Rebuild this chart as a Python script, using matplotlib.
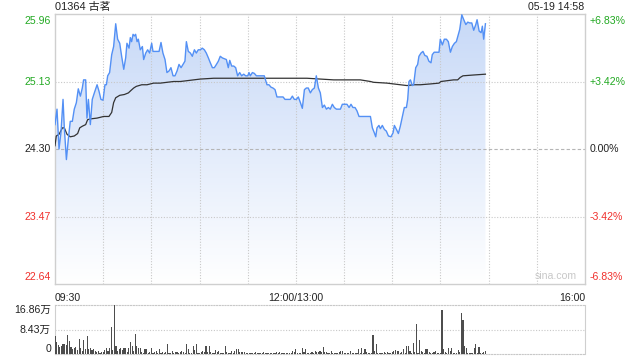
import numpy as np
import matplotlib
matplotlib.use("Agg")
import matplotlib.pyplot as plt
from matplotlib.patches import Polygon
from matplotlib.transforms import blended_transform_factory

plt.rcParams['font.family'] = ['Liberation Sans', 'Noto Sans CJK SC', 'DejaVu Sans']

# ---------------- data ----------------
title = "01364 古茗"
stamp = "05-19 14:58"
prev_close = 24.30
price_ticks = [25.96, 25.13, 24.30, 23.47, 22.64]
time_labels = ["09:30", "12:00/13:00", "16:00"]
time_label_pos = [0, 150, 330]          # trading minutes since 09:30
total_minutes = 330

# price line (trading minutes since 09:30, price)
price_t = [0, 1.25, 2.5, 3.7, 5.0, 5.8, 7.1, 8.3, 9.5, 10.8, 12.0, 13.3, 14.5, 15.8, 17.0, 17.8,
           19.1, 19.9, 20.8, 22.0, 23.2, 24.5, 26.2, 27.4, 28.6, 29.9, 31.1, 32.0, 32.8, 34.0,
           35.3, 36.5, 37.8, 39.0, 40.3, 41.5, 42.8, 44.0, 44.8, 46.1, 46.9, 47.7, 48.6, 49.4,
           50.2, 51.1, 51.9, 53.1, 54.4, 55.2, 56.5, 57.7, 58.9, 60.2, 61.0, 63.5, 64.8, 66.0,
           67.2, 68.5, 69.7, 71.0, 72.2, 73.5, 74.7, 76.0, 77.2, 78.5, 79.7, 80.9, 81.8, 83.0,
           84.3, 85.5, 86.8, 88.0, 89.2, 90.5, 91.7, 93.0, 94.2, 95.5, 96.7, 98.0, 99.2, 100.5,
           101.7, 102.9, 104.2, 105.4, 106.7, 107.9, 108.8, 110.0, 111.3, 112.5, 113.7, 115.0,
           116.2, 117.5, 118.7, 120.0, 120.8, 121.6, 122.9, 124.1, 125.4, 130.3, 132.0, 133.2,
           134.5, 135.7, 137.0, 138.2, 142.0, 143.2, 146.5, 147.8, 149.0, 150.3, 151.5, 152.8,
           154.0, 155.3, 156.5, 157.7, 159.0, 160.2, 161.5, 162.7, 164.0, 165.2, 166.5, 167.7,
           169.0, 170.2, 171.4, 172.7, 173.9, 175.2, 177.7, 178.9, 181.8, 183.1, 184.3, 185.5,
           186.8, 188.0, 189.3, 196.4, 197.6, 198.8, 199.7, 200.5, 201.7, 202.6, 203.8, 205.1,
           206.3, 207.6, 209.2, 210.5, 211.3, 212.6, 213.8, 215.0, 216.3, 217.5, 218.8, 219.6,
           220.4, 221.3, 222.5, 223.3, 224.6, 225.8, 226.6, 227.9, 229.1, 230.3, 231.6, 232.8,
           234.1, 234.9, 236.1, 239.1, 239.9, 241.2, 242.4, 243.7, 244.9, 246.2, 247.4, 248.7,
           249.9, 251.2, 252.0, 253.3, 254.5, 255.8, 257.0, 258.2, 259.5, 260.7, 262.0, 262.8,
           264.1, 265.3, 266.1, 266.9, 268.0]
price_v = [24.60, 24.79, 24.30, 24.50, 24.91, 24.56, 24.17, 24.42, 24.64, 24.64, 24.79, 24.87,
           25.04, 24.95, 25.05, 25.15, 25.15, 24.68, 24.91, 24.60, 24.91, 24.99, 25.09, 25.01,
           24.91, 24.90, 25.09, 25.09, 25.20, 25.24, 25.46, 25.56, 25.84, 25.65, 25.60, 25.44,
           25.28, 25.42, 25.60, 25.54, 25.67, 25.62, 25.71, 25.69, 25.71, 25.62, 25.65, 25.52,
           25.56, 25.40, 25.48, 25.52, 25.48, 25.60, 25.50, 25.50, 25.50, 25.61, 25.48, 25.40,
           25.24, 25.26, 25.30, 25.20, 25.20, 25.26, 25.34, 25.30, 25.34, 25.38, 25.62, 25.50,
           25.48, 25.44, 25.52, 25.48, 25.52, 25.52, 25.54, 25.52, 25.48, 25.42, 25.36, 25.30,
           25.30, 25.34, 25.38, 25.44, 25.42, 25.41, 25.40, 25.30, 25.39, 25.32, 25.32, 25.30,
           25.20, 25.24, 25.20, 25.22, 25.20, 25.20, 25.24, 25.20, 25.24, 25.23, 25.20, 25.20,
           25.09, 25.09, 25.06, 25.05, 25.03, 24.94, 24.94, 24.91, 24.91, 24.95, 24.91, 24.91,
           24.94, 24.87, 24.80, 25.03, 25.05, 25.05, 24.99, 25.03, 25.05, 25.20, 25.05, 24.99,
           24.81, 24.84, 24.79, 24.81, 24.79, 24.85, 24.81, 24.79, 24.79, 24.85, 24.85, 24.81,
           24.85, 24.81, 24.81, 24.77, 24.70, 24.70, 24.56, 24.50, 24.45, 24.56, 24.59, 24.55,
           24.59, 24.54, 24.52, 24.46, 24.45, 24.50, 24.59, 24.54, 24.49, 24.58, 24.70, 24.81,
           24.81, 24.91, 25.13, 25.15, 25.08, 25.09, 25.30, 25.34, 25.44, 25.48, 25.50, 25.45,
           25.44, 25.38, 25.36, 25.46, 25.49, 25.49, 25.65, 25.58, 25.65, 25.65, 25.62, 25.49,
           25.56, 25.60, 25.62, 25.71, 25.77, 25.95, 25.89, 25.83, 25.86, 25.85, 25.85, 25.76,
           25.83, 25.89, 25.75, 25.73, 25.81, 25.65, 25.84]

# average price line
avg_t = [0, 0.8, 2.5, 4.6, 5.8, 7.5, 9.5, 12.0, 14.1, 15.4, 17.0, 19.1, 20.3, 22.0, 26.2, 30.3,
         33.6, 35.3, 36.5, 37.8, 40.3, 43.2, 45.7, 47.3, 49.0, 50.6, 54.0, 57.3, 61.4, 65.6,
         69.7, 73.9, 78.0, 82.2, 86.3, 90.5, 98.8, 107.1, 115.4, 123.7, 132.0, 140.3, 148.6,
         156.9, 165.2, 173.5, 181.8, 190.1, 196.4, 198.4, 206.7, 215.0, 219.2, 223.3, 227.5,
         233.7, 239.1, 240.3, 248.2, 250.7, 252.3, 254.0, 260.7, 268.0]
avg_v = [24.34, 24.46, 24.48, 24.56, 24.56, 24.48, 24.45, 24.46, 24.49, 24.56, 24.58, 24.60,
         24.66, 24.67, 24.68, 24.70, 24.70, 24.75, 24.87, 24.93, 24.96, 24.97, 24.99, 25.02,
         25.05, 25.07, 25.09, 25.09, 25.11, 25.11, 25.12, 25.13, 25.13, 25.14, 25.15, 25.16,
         25.17, 25.17, 25.17, 25.17, 25.17, 25.17, 25.17, 25.17, 25.16, 25.15, 25.15, 25.15,
         25.13, 25.12, 25.11, 25.09, 25.08, 25.09, 25.09, 25.10, 25.11, 25.13, 25.15, 25.15,
         25.18, 25.20, 25.21, 25.22]

# per-minute volume, thousands of shares, minute 0 (09:30) .. 268 (14:58)
volume_k = [61, 40, 30, 24, 29, 33, 36, 30, 66, 44, 25, 18, 20, 24, 14, 52, 21, 12, 49, 16,
            63, 16, 19, 14, 16, 10, 7, 12, 5, 7, 7, 15, 20, 12, 20, 94, 15, 167, 27, 10,
            18, 20, 15, 20, 20, 8, 20, 43, 27, 12, 70, 27, 21, 21, 7, 5, 18, 16, 5, 8,
            21, 5, 7, 10, 5, 16, 5, 8, 4, 6, 36, 5, 3, 10, 5, 7, 7, 5, 7, 10,
            6, 4, 36, 18, 5, 5, 27, 15, 33, 5, 5, 7, 10, 7, 29, 7, 29, 7, 5, 5,
            13, 7, 10, 5, 5, 5, 29, 7, 5, 5, 10, 5, 10, 16, 16, 7, 7, 7, 7, 5,
            5, 5, 3, 5, 5, 7, 5, 5, 3, 5, 7, 5, 5, 3, 5, 5, 5, 5, 7, 5,
            7, 5, 5, 5, 5, 5, 5, 5, 10, 7, 16, 3, 5, 5, 21, 7, 16, 5, 5, 5,
            7, 5, 10, 7, 7, 10, 7, 25, 7, 7, 3, 3, 10, 5, 5, 3, 5, 7, 10, 10,
            5, 5, 3, 5, 10, 5, 3, 5, 5, 16, 5, 21, 5, 16, 7, 5, 5, 5, 66, 10,
            33, 5, 5, 5, 5, 7, 5, 7, 5, 5, 7, 10, 13, 10, 10, 5, 7, 16, 5, 29,
            29, 10, 5, 38, 7, 103, 5, 47, 10, 7, 5, 18, 16, 7, 5, 5, 7, 10, 5, 5,
            5, 153, 18, 7, 5, 21, 10, 21, 3, 5, 5, 13, 7, 142, 117, 29, 21, 5, 5, 3,
            5, 21, 36, 5, 25, 5, 5, 7, 10]
volume_max = 168600

# ---------------- style ----------------
GREEN = '#22a922'
RED = '#f0302c'
BLACK = '#222222'
GRID = '#c8c8c8'
SPINE = '#cfcfcf'
LINE = '#5390f5'
FS = 7.6

fig = plt.figure(figsize=(6.4, 3.6), dpi=100)
ax = fig.add_axes([55/640, 1-284/360, 530/640, 270/360])
axv = fig.add_axes([55/640, 1-354/360, 530/640, 49/360])

ymin, ymax = min(price_ticks), max(price_ticks)
ax.set_xlim(0, total_minutes)
ax.set_ylim(ymin, ymax)

pt = np.array(price_t)
pv = np.array(price_v)

# gradient fill under price line
grad = np.linspace(0, 1, 256).reshape(-1, 1)
top_c = np.array([0.78, 0.85, 0.97])
bot_c = np.array([1.0, 1.0, 1.0])
img = top_c[None, None, :] * (1 - grad[:, :, None]) + bot_c[None, None, :] * grad[:, :, None]
im = ax.imshow(img, extent=[0, total_minutes, ymin, ymax], origin='upper', aspect='auto',
               zorder=1, interpolation='bilinear')
verts = np.column_stack([np.r_[pt, pt[::-1]], np.r_[pv, np.full_like(pv, ymin)]])
poly = Polygon(verts, closed=True, facecolor='none', edgecolor='none', transform=ax.transData)
ax.add_patch(poly)
im.set_clip_path(poly)

# grid
for i in range(1, 11):
    ax.axvline(i * 30, color=GRID, lw=0.8, ls=(0, (1, 1.5)), zorder=2)
for y in price_ticks[1:-1]:
    if y == prev_close:
        ax.axhline(y, color='#b5b5b5', lw=0.8, ls=(0, (3, 2)), zorder=2)
    else:
        ax.axhline(y, color=GRID, lw=0.8, ls=(0, (1, 1.5)), zorder=2)

ax.plot(pt, pv, color=LINE, lw=1.0, zorder=4)
ax.plot(avg_t, avg_v, color='#333333', lw=0.9, zorder=3)

ax.set_xticks([])
ax.set_yticks([])
for s in ax.spines.values():
    s.set_color(SPINE)
    s.set_linewidth(1.0)

# price labels
tr_l = blended_transform_factory(fig.transFigure, ax.transData)
for y in price_ticks:
    c = GREEN if y > prev_close else (RED if y < prev_close else BLACK)
    va = 'top' if y == ymax else ('bottom' if y == ymin else 'center')
    dy = -1.5 if y == ymax else (1.5 if y == ymin else 0)
    pct = (y / prev_close - 1) * 100
    ptxt = "0.00%" if abs(pct) < 1e-9 else f"{pct:+.2f}%"
    ax.annotate(f"{y:.2f}", xy=(51/640, y), xycoords=tr_l, xytext=(0, dy),
                textcoords='offset points', ha='right', va=va, color=c, fontsize=FS)
    ax.annotate(ptxt, xy=(590/640, y), xycoords=tr_l, xytext=(0, dy),
                textcoords='offset points', ha='left', va=va, color=c, fontsize=FS)

# time labels
for lab, pos in zip(time_labels, time_label_pos):
    ha = 'left' if pos == 0 else ('right' if pos == total_minutes else 'center')
    ax.text(pos, -0.035, lab, transform=blended_transform_factory(ax.transData, ax.transAxes),
            ha=ha, va='top', fontsize=FS, color=BLACK)

fig.text(55/640, 1-7/360, title, ha='left', va='center', fontsize=FS + 0.3, color=BLACK)
fig.text(584/640, 1-7/360, stamp, ha='right', va='center', fontsize=FS, color=BLACK)
ax.text(0.985, 0.012, "sina.com", transform=ax.transAxes, ha='right', va='bottom',
        fontsize=FS, color='#c8c8c8')

# volume
vol = np.array(volume_k) * 1000
minutes = np.arange(len(vol))
axv.bar(minutes, vol, width=0.7, color='#4d4d4d', zorder=3)
axv.set_xlim(0, total_minutes)
axv.set_ylim(0, volume_max)
axv.axhline(volume_max / 2, color=GRID, lw=0.8, ls=(0, (1, 1.5)), zorder=1)
axv.set_xticks([])
axv.set_yticks([])
for k in ['left', 'right']:
    axv.spines[k].set_color(SPINE)
for k in ['top', 'bottom']:
    axv.spines[k].set_color(GRID)
    axv.spines[k].set_linestyle((0, (1, 1.5)))
    axv.spines[k].set_linewidth(0.8)

tr_v = blended_transform_factory(fig.transFigure, axv.transData)
vol_ticks = [volume_max, volume_max / 2, 0]
for v in vol_ticks:
    lab = "0" if v == 0 else f"{v/10000:.2f}万"
    va = 'top' if v == volume_max else ('bottom' if v == 0 else 'center')
    axv.text(51/640, v, lab, transform=tr_v, ha='right', va=va, fontsize=FS, color=BLACK)

fig.savefig("out.png", dpi=100)
